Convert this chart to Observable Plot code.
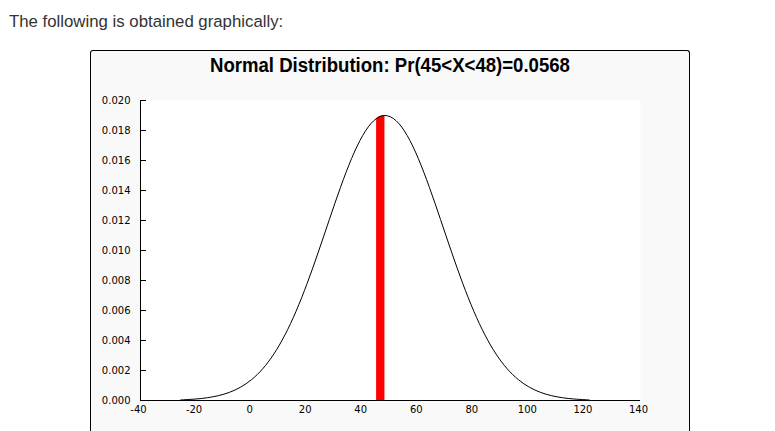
<!DOCTYPE html>
<html>
<head>
<meta charset="utf-8">
<script src="https://cdn.jsdelivr.net/npm/d3@7"></script>
<script src="https://cdn.jsdelivr.net/npm/@observablehq/plot@0.6"></script>
<style>
  html, body { margin: 0; padding: 0; background: #ffffff; }
  #wrap { position: relative; width: 775px; height: 431px; overflow: hidden; }
  #intro { position: absolute; left: 9px; top: 13.8px; font-family: "Liberation Sans", Arial, sans-serif;
           font-size: 16.8px; line-height: 16.8px; color: #333333; white-space: nowrap; }
  #box { position: absolute; left: 90px; top: 50px; width: 600px; height: 420px; box-sizing: border-box;
         border: 1px solid #000; border-bottom: none; border-radius: 3px 3px 0 0; background: #f9f9f9; }
  #chart { position: absolute; left: 0; top: 0; }
  #title { position: absolute; left: 90px; width: 600px; top: 55.5px; text-align: center;
           font-family: "Liberation Sans", Arial, sans-serif; font-weight: bold; font-size: 19.5px;
           line-height: 19.5px; color: #000; white-space: nowrap; transform: scaleX(0.953); transform-origin: 299.5px 0; }
</style>
</head>
<body>
<div id="wrap">
  <div id="intro">The following is obtained graphically:</div>
  <div id="box"></div>
  <div id="chart"></div>
  <div id="title">Normal Distribution: Pr(45&lt;X&lt;48)=0.0568</div>
</div>
<script>
// Curve samples (X value, density)
const curveX = [-25.5, -24, -20, -16, -12, -8, -4, 0, 4, 8, 12, 16, 20, 24, 28, 32, 36, 40, 44, 48,
                52, 56, 60, 64, 68, 72, 76, 80, 84, 88, 92, 96, 100, 104, 108, 112, 116, 120, 121.5];
const curveY = [0.0000416, 0.0000532, 0.0001004, 0.0001827, 0.0003207, 0.0005427, 0.0008857, 0.0013939,
                0.0021155, 0.003097, 0.004371, 0.005950, 0.007810, 0.009888, 0.012071, 0.014212, 0.016136,
                0.017668, 0.018656, 0.018998, 0.018656, 0.017668, 0.016136, 0.014212, 0.012071, 0.009888,
                0.007810, 0.005950, 0.004371, 0.003097, 0.0021155, 0.0013939, 0.0008857, 0.0005427,
                0.0003207, 0.0001827, 0.0001004, 0.0000532, 0.0000416];
// Shaded region 45 < X < 48
const shadeX = [45, 46, 47, 48];
const shadeY = [0.018805, 0.018912, 0.018976, 0.018998];
// Axis ticks
const xTicks = [-40, -20, 0, 20, 40, 60, 80, 100, 120, 140];
const yTicks = [0, 0.002, 0.004, 0.006, 0.008, 0.010, 0.012, 0.014, 0.016, 0.018, 0.020];

const curve = curveX.map((x, i) => ({x, y: curveY[i]}));
const shade = shadeX.map((x, i) => ({x, y: shadeY[i]}));

const chart = Plot.plot({
  width: 775,
  height: 431,
  marginLeft: 140,
  marginRight: 135,
  marginTop: 100,
  marginBottom: 31,
  style: { background: "transparent", fontFamily: "'DejaVu Sans', sans-serif", fontSize: "10px", color: "#000" },
  x: { domain: [-40, 140], label: null },
  y: { domain: [0, 0.02], label: null },
  marks: [
    Plot.frame({ fill: "white", stroke: "none" }),
    Plot.areaY(shade, { x: "x", y: "y", fill: "red" }),
    Plot.line(curve, { x: "x", y: "y", stroke: "black", strokeWidth: 1, curve: "natural" }),
    Plot.ruleX([-40], { stroke: "black" }),
    Plot.ruleY([0], { stroke: "black" }),
    Plot.axisY({ ticks: yTicks, tickFormat: (d) => d.toFixed(3), tickSize: -6, tickPadding: 16, label: null }),
    Plot.axisX({ ticks: xTicks, tickFormat: (d) => String(d), tickSize: 0, tickPadding: 5, dx: -2, label: null })
  ]
});
document.getElementById("chart").appendChild(chart);
</script>
</body>
</html>
